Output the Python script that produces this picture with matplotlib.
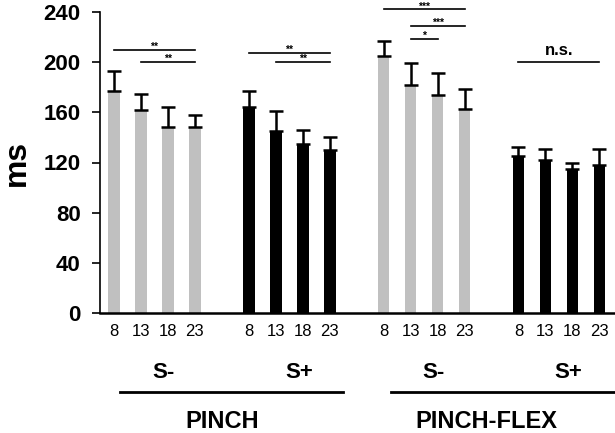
import matplotlib
matplotlib.use('Agg')
import matplotlib.pyplot as plt
import numpy as np

plt.rcParams['font.family'] = ['Liberation Sans', 'DejaVu Sans']

# data
freqs = ['8', '13', '18', '23']
pinch_sminus = [177, 162, 148, 148]
pinch_sminus_err = [16, 13, 16, 10]
pinch_splus = [164, 145, 135, 130]
pinch_splus_err = [13, 16, 11, 10]
flex_sminus = [205, 182, 174, 163]
flex_sminus_err = [12, 17, 17, 16]
flex_splus = [125, 122, 115, 118]
flex_splus_err = [7, 9, 5, 13]

grey = '#c0c0c0'
groups = [(pinch_sminus, pinch_sminus_err, grey),
          (pinch_splus, pinch_splus_err, 'black'),
          (flex_sminus, flex_sminus_err, grey),
          (flex_splus, flex_splus_err, 'black')]

fig = plt.figure(figsize=(6.15, 4.33), dpi=100)
ax = fig.add_axes([100/615, 120/433, 515/615, 301/433])

xpos = []
for g, (vals, errs, col) in enumerate(groups):
    x = np.arange(4) + 5*g
    xpos.extend(x)
    ax.bar(x, vals, width=0.43, color=col, zorder=2)
    ax.errorbar(x, vals, yerr=[np.zeros(4), errs], fmt='none', ecolor='black',
                elinewidth=1.8, capsize=5, capthick=1.8, zorder=3)

ax.set_xlim(-0.52, 18.58)
ax.set_ylim(0, 240)
ax.set_yticks(np.arange(0, 241, 40))
ax.set_yticklabels([str(v) for v in range(0, 241, 40)], fontsize=16, fontweight='bold')
ax.set_xticks(xpos)
ax.set_xticklabels(freqs*4, fontsize=12)
ax.tick_params(axis='x', length=0, pad=8)
ax.tick_params(axis='y', length=6, width=1.2, direction='out', pad=8)
ax.spines['top'].set_visible(False)
ax.spines['right'].set_visible(False)
ax.spines['left'].set_linewidth(1.2)
ax.spines['bottom'].set_linewidth(1.8)
ax.set_ylabel('ms', fontsize=23, fontweight='bold', labelpad=8)

# significance brackets: (x start, x end, y, label)
sig = [(0, 3, 209.5, '**'), (1, 3, 200, '**'),
       (5, 8, 207.5, '**'), (6, 8, 200, '**'),
       (10, 13, 242, '***'), (11, 13, 229, '***'), (11, 12, 218.5, '*'),
       (15, 18, 200, 'n.s.')]
for x0, x1, y, lab in sig:
    ax.plot([x0, x1], [y, y], color='black', lw=1.2, clip_on=False)
    if lab == 'n.s.':
        ax.text((x0+x1)/2, y + 3, lab, ha='center', va='bottom', fontsize=12,
                fontweight='bold', clip_on=False)
    else:
        ax.text((x0+x1)/2, y - 1.5, lab, ha='center', va='bottom', fontsize=7.5,
                fontweight='bold', clip_on=False)

# group labels under the axis
tr = ax.get_xaxis_transform()
for g, lab in enumerate(['S-', 'S+', 'S-', 'S+']):
    ax.text(5*g + 1.85, -0.199, lab, transform=tr, ha='center', va='center',
            fontsize=16, fontweight='bold', clip_on=False)
for x0, x1, xc, lab in [(0.22, 8.5, 4.0, 'PINCH'), (10.27, 18.6, 13.8, 'PINCH-FLEX')]:
    ax.plot([x0, x1], [-0.261, -0.261], transform=tr, color='black', lw=2, clip_on=False)
    ax.text(xc, -0.36, lab, transform=tr, ha='center', va='center',
            fontsize=17, fontweight='bold', clip_on=False)

fig.savefig('out.png', dpi=100)
